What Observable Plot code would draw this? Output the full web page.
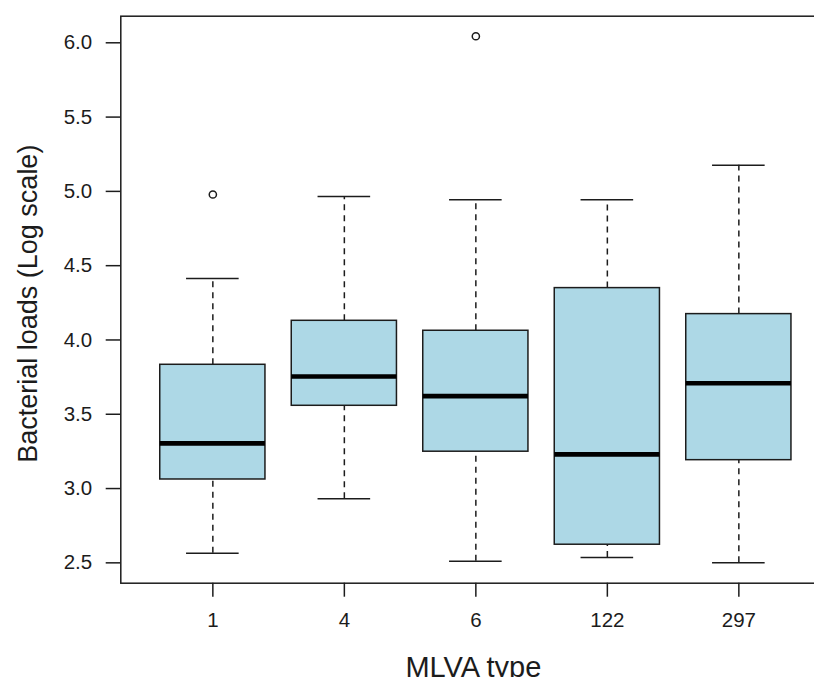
<!DOCTYPE html>
<html>
<head>
<meta charset="utf-8">
<script src="https://cdn.jsdelivr.net/npm/d3@7"></script>
<script src="https://cdn.jsdelivr.net/npm/@observablehq/plot@0.6"></script>
<style>
  html, body { margin: 0; padding: 0; background: #fff; }
  #wrap { width: 814px; height: 677px; overflow: hidden; }
</style>
</head>
<body>
<div id="wrap"></div>
<script>
// Box statistics
const mlvaTypes     = ["1", "4", "6", "122", "297"];
const lowerWhisker  = [2.565, 2.931, 2.511, 2.536, 2.500];
const lowerQuartile = [3.061, 3.557, 3.248, 2.622, 3.191];
const medians       = [3.304, 3.754, 3.622, 3.230, 3.709];
const upperQuartile = [3.833, 4.129, 4.062, 4.349, 4.174];
const upperWhisker  = [4.414, 4.966, 4.943, 4.943, 5.176];
const outlierTypes  = ["1", "6"];
const outlierValues = [4.979, 6.044];
const yTicks        = [2.5, 3.0, 3.5, 4.0, 4.5, 5.0, 5.5, 6.0];

const boxes = mlvaTypes.map((t, i) => ({
  type: t, pos: i + 1,
  lo: lowerWhisker[i], q1: lowerQuartile[i], med: medians[i],
  q3: upperQuartile[i], hi: upperWhisker[i]
}));
const outliers = outlierTypes.map((t, i) => ({pos: mlvaTypes.indexOf(t) + 1, value: outlierValues[i]}));

const ink = "#1c1c1c";
const boxHalf = 0.4, capHalf = 0.2;

const chart = Plot.plot({
  width: 814,
  height: 677,
  marginLeft: 120.3,
  marginRight: -16.4,
  marginTop: 15.7,
  marginBottom: 94.3,
  style: {fontFamily: "'Liberation Sans', Arial, sans-serif", fontSize: "20.5px", color: ink, background: "#fff"},
  x: {domain: [0.3, 5.7], ticks: [1, 2, 3, 4, 5], tickFormat: d => mlvaTypes[d - 1]},
  y: {domain: [2.363, 6.179], ticks: yTicks, tickFormat: d3.format(".1f")},
  marks: [
    Plot.axisY({ticks: yTicks, tickFormat: d3.format(".1f"), tickSize: 14.6, tickPadding: 14, strokeWidth: 1.5, label: null, fill: ink}),
    Plot.axisX({ticks: [1, 2, 3, 4, 5], tickFormat: d => mlvaTypes[d - 1], tickSize: 14, tickPadding: 15, strokeWidth: 1.5, label: null, fill: ink}),
    // whiskers
    Plot.ruleX(boxes, {x: "pos", y1: "q3", y2: "hi", stroke: ink, strokeWidth: 1.5, strokeDasharray: "6,5"}),
    Plot.ruleX(boxes, {x: "pos", y1: "lo", y2: "q1", stroke: ink, strokeWidth: 1.5, strokeDasharray: "6,5"}),
    // staples
    Plot.ruleY(boxes, {y: "hi", x1: d => d.pos - capHalf, x2: d => d.pos + capHalf, stroke: ink, strokeWidth: 1.5}),
    Plot.ruleY(boxes, {y: "lo", x1: d => d.pos - capHalf, x2: d => d.pos + capHalf, stroke: ink, strokeWidth: 1.5}),
    // boxes
    Plot.rect(boxes, {x1: d => d.pos - boxHalf, x2: d => d.pos + boxHalf, y1: "q1", y2: "q3", fill: "#ADD8E6", stroke: ink, strokeWidth: 1.5}),
    // medians
    Plot.ruleY(boxes, {y: "med", x1: d => d.pos - boxHalf, x2: d => d.pos + boxHalf, stroke: "#000", strokeWidth: 4.6}),
    // outliers
    Plot.dot(outliers, {x: "pos", y: "value", r: 3.6, stroke: ink, strokeWidth: 1.5, fill: "none"}),
    Plot.frame({stroke: ink, strokeWidth: 1.5}),
    // axis titles
    Plot.text(["MLVA type"], {frameAnchor: "bottom", textAnchor: "middle", lineAnchor: "bottom", dx: -2.5, dy: 93.5, fontSize: 29, fill: ink}),
    Plot.text(["Bacterial loads (Log scale)"], {frameAnchor: "left", textAnchor: "middle", lineAnchor: "bottom", rotate: -90, dx: -83.6, dy: 4, fontSize: 27, fill: ink})
  ]
});
document.getElementById("wrap").appendChild(chart);
</script>
</body>
</html>
